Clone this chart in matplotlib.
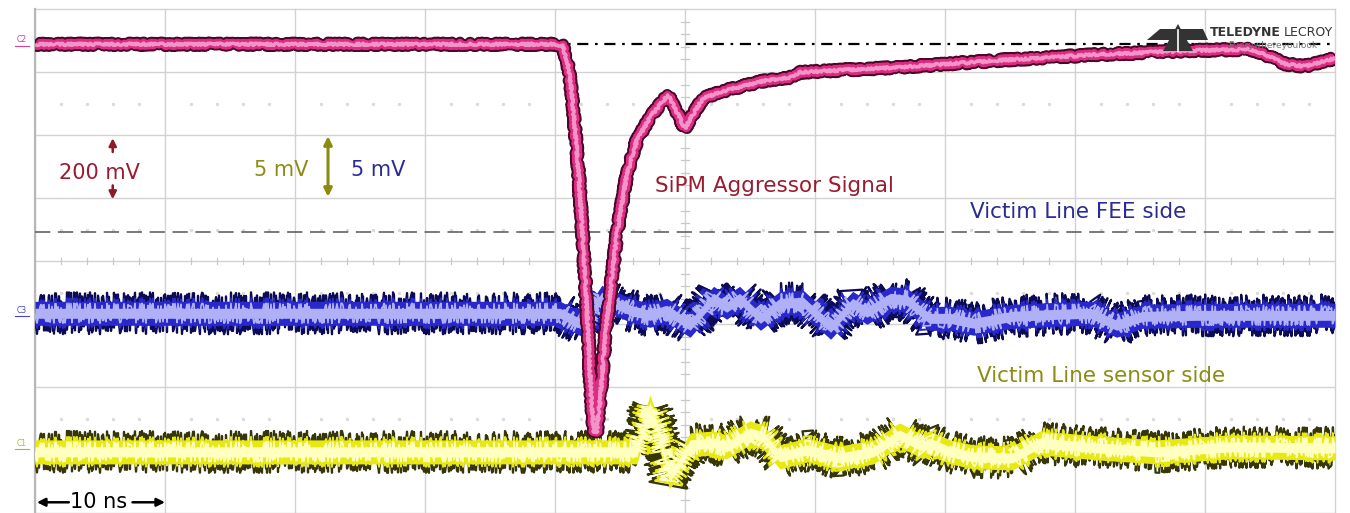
import matplotlib
matplotlib.use("Agg")
import matplotlib.pyplot as plt
from matplotlib.patches import Polygon, Rectangle
import numpy as np

plt.rcParams["path.simplify"] = False

# ---- screen layout: 10 ns/div horizontally, 8 vertical divisions ----
NS_PER_DIV = 10
N_XDIV = 10
N_YDIV = 8
PX_PER_DIV = 63.0   # vertical size of one division on the 1350x513 canvas

# ---- C2: SiPM aggressor signal, 200 mV/div ----
c2_t = [0.0, 40.1, 40.6, 41.0, 41.3, 41.8, 42.1, 42.5, 42.8, 43.0, 43.2, 43.5,
        43.9, 44.4, 44.8, 45.5, 46.3, 47.3, 48.1, 48.7, 49.3, 50.0, 50.7, 51.4,
        53.2, 56.3, 58.1, 58.8, 66.5, 74.2, 81.9, 89.6, 93.5, 94.6, 96.2, 97.7,
        100.0]
c2_mv = [0, 0, -6, -67, -156, -400, -590, -876, -1130, -1232, -1232, -1114,
         -908, -733, -590, -416, -305, -232, -190, -162, -210, -267, -216, -171,
         -146, -114, -105, -89, -73, -51, -32, -19, -16, -32, -63, -70,
         -44]
C2_MV_PER_DIV = 200
C2_OFFSET_DIV = 3.44

# ---- C3: victim line, FEE side, 5 mV/div ----
c3_t = [0.0, 40.4, 42.2, 43.6, 45.8, 47.3, 48.6, 50.4, 52.2, 53.2, 54.2, 55.8,
        57.3, 59.1, 61.2, 62.9, 64.0, 65.8, 67.1, 68.8, 70.4, 72.2, 75.2, 78.6,
        81.2, 83.2, 85.2, 89.4, 94.5, 100.0]
c3_mv = [0.0, 0.0, -0.95, 1.27, 0.24, -0.16, 0.24, -0.95, 1.19, 0.48, 1.19, -0.40,
         0.79, 0.87, -1.11, 0.79, 0.08, 1.19, 1.03, -0.40, -0.40, -0.79, -0.24, -0.08,
         0.0, -0.95, -0.24, -0.16, -0.16, -0.16]
C3_MV_PER_DIV = 5
C3_OFFSET_DIV = -0.83

# ---- C1: victim line, sensor side, 5 mV/div ----
c1_t = [0.0, 38.8, 46.3, 47.3, 47.9, 48.8, 49.6, 50.4, 52.2, 53.2, 55.0, 56.0,
        57.3, 59.4, 61.9, 64.5, 66.5, 68.3, 68.8, 70.4, 72.2, 75.2, 77.3, 81.7,
        86.3, 91.9, 100.0]
c1_mv = [0.0, 0.0, 0.0, 3.57, 1.75, -1.98, -0.87, 0.56, 0.71, 0.40, 1.51, 1.19,
         -0.40, 0.16, -0.48, 0.0, 1.35, 0.40, 0.71, 0.0, -0.40, -0.48, 0.71, 0.32,
         0.0, 0.40, 0.32]
C1_MV_PER_DIV = 5
C1_OFFSET_DIV = -3.03

# reference levels (divisions)
C2_REF_DIV = 3.44
TRIG_LEVEL_DIV = 0.46

RED = "#9b1b30"
NAVY = "#2b2b96"
OLIVE = "#8c8c14"

fig = plt.figure(figsize=(13.5, 5.13), dpi=100)
fig.patch.set_facecolor("white")
ax = fig.add_axes([0, 0, 1, 1])
ax.set_xlim(-2.692, 101.154)
ax.set_ylim(-4.0, 4.143)
ax.axis("off")

xmax = N_XDIV * NS_PER_DIV
ytop = N_YDIV / 2
screen = Rectangle((0, -ytop), xmax, 2 * ytop, transform=ax.transData,
                   facecolor="none", edgecolor="none")
ax.add_patch(screen)

# graticule
for i in range(N_XDIV + 1):
    ax.plot([i * NS_PER_DIV] * 2, [-ytop, ytop], color="#d2d2d2", lw=1.0, zorder=1)
for j in range(N_YDIV + 1):
    ax.plot([0, xmax], [j - ytop] * 2, color="#d2d2d2", lw=1.0, zorder=1)
ax.plot([0, 0], [-ytop, ytop], color="#b8b8b8", lw=1.6, zorder=1)

# faint sub-division dots
sub_x = [k * 2 for k in range(1, 50) if k % 5]
for yd in (2.5, 0.5, -0.5, -2.5):
    ax.plot(sub_x, [yd] * len(sub_x), ls="none", marker="s", ms=1.3,
            color="#dcdcdc", zorder=1)

# centre-axis tick marks
for k in range(1, 50):
    if k % 5:
        ax.plot([k * 2] * 2, [-0.04, 0.04], color="#c8c8c8", lw=0.9, zorder=1)
for k in range(-20, 21):
    if k % 5:
        ax.plot([49.7, 50.3], [k * 0.2] * 2, color="#c8c8c8", lw=0.9, zorder=1)

# reference lines
ax.plot([0, xmax], [C2_REF_DIV] * 2, color="black", lw=1.6,
        dashes=(5, 3, 1.2, 3), zorder=2)
ax.plot([0, xmax], [TRIG_LEVEL_DIV] * 2, color="#555555", lw=1.1,
        dashes=(10, 5), zorder=2)


def jitter_line(t, d, col, lw, jit, z, length=1.5, rnd=6):
    ln, = ax.plot(t, d, color=col, lw=lw, solid_joinstyle="round",
                  solid_capstyle="butt", zorder=z)
    ln.set_sketch_params(jit, length, rnd)
    ln.set_clip_path(screen)


def band_trace(t, mv, per_div, offset, edge, mid, light, z):
    """Persistence-style trace for a small-signal channel: a jittered dark
    envelope, a solid body and a bright core, each with noisy streaks."""
    d = offset + np.asarray(mv, dtype=float) / per_div
    jitter_line(t, d, edge, 1.6, 21, z)
    jitter_line(t, d, edge, 1.6, 18, z, length=1.2)
    body = ax.fill_between(t, d - 12 / PX_PER_DIV, d + 12 / PX_PER_DIV,
                           color=mid, lw=0, zorder=z)
    body.set_clip_path(screen)
    jitter_line(t, d, mid, 1.4, 15, z)
    core = ax.fill_between(t, d - 5 / PX_PER_DIV, d + 5 / PX_PER_DIV,
                           color=light, lw=0, zorder=z)
    core.set_clip_path(screen)
    jitter_line(t, d, light, 1.2, 10, z)


def line_trace(t, mv, per_div, offset, layers, z):
    """Persistence-style trace for the large-signal channel: stacked strokes
    with a slight jitter, widest/darkest first."""
    d = offset + np.asarray(mv, dtype=float) / per_div
    for col, lw, jit in layers:
        ln, = ax.plot(t, d, color=col, lw=lw, solid_joinstyle="round",
                      solid_capstyle="butt", zorder=z)
        ln.set_sketch_params(jit, 1.3, 8)
        ln.set_clip_path(screen)


band_trace(c3_t, c3_mv, C3_MV_PER_DIV, C3_OFFSET_DIV,
           "#0c0c55", "#2828cc", "#b0b0f6", 3)
band_trace(c1_t, c1_mv, C1_MV_PER_DIV, C1_OFFSET_DIV,
           "#36360a", "#e8e812", "#ffffc0", 3)
line_trace(c2_t, c2_mv, C2_MV_PER_DIV, C2_OFFSET_DIV,
           [("#4a0828", 8.0, 2.2), ("#de2a82", 5.6, 1.8), ("#f294c8", 2.4, 1.2)], 5)

# channel tags at the left edge
for name, yd, col in (("C2", 3.51, "#d8409a"), ("C3", -0.78, "#4646c8"),
                      ("C1", -2.90, "#b4b428")):
    ax.text(-1.0, yd, name, color=col, fontsize=5.5, ha="center", va="center",
            zorder=6)
    ax.plot([-1.55, -0.45], [yd - 0.09] * 2, color=col, lw=0.8, zorder=6)

# vertical scale annotations
ax.text(4.92, 1.40, "200 mV", color=RED, fontsize=15, ha="center", va="center", zorder=6)
ax.annotate("", xy=(5.98, 1.95), xytext=(5.98, 1.73),
            arrowprops=dict(arrowstyle="-|>", color="#8b1a2a", lw=1.8,
                            mutation_scale=11, shrinkA=0, shrinkB=0), zorder=6)
ax.annotate("", xy=(5.98, 0.98), xytext=(5.98, 1.20),
            arrowprops=dict(arrowstyle="-|>", color="#8b1a2a", lw=1.8,
                            mutation_scale=11, shrinkA=0, shrinkB=0), zorder=6)

ax.text(18.92, 1.44, "5 mV", color=OLIVE, fontsize=15, ha="center", va="center", zorder=6)
ax.annotate("", xy=(22.54, 1.98), xytext=(22.54, 1.02),
            arrowprops=dict(arrowstyle="<|-|>", color="#8c8a10", lw=2.2,
                            mutation_scale=12, shrinkA=0, shrinkB=0), zorder=6)
ax.text(26.38, 1.44, "5 mV", color=NAVY, fontsize=15, ha="center", va="center", zorder=6)

# trace labels
ax.text(47.69, 1.19, "SiPM Aggressor Signal", color=RED, fontsize=15.5,
        ha="left", va="center", zorder=6)
ax.text(71.92, 0.78, "Victim Line FEE side", color=NAVY, fontsize=15.5,
        ha="left", va="center", zorder=6)
ax.text(72.46, -1.83, "Victim Line sensor side", color=OLIVE, fontsize=15.5,
        ha="left", va="center", zorder=6)

# time-scale marker
ax.text(4.92, -3.83, "10 ns", color="black", fontsize=15, ha="center", va="center", zorder=6)
ax.annotate("", xy=(0.15, -3.83), xytext=(2.6, -3.83),
            arrowprops=dict(arrowstyle="-|>", color="black", lw=1.8,
                            mutation_scale=12, shrinkA=0, shrinkB=0), zorder=6)
ax.annotate("", xy=(10.0, -3.83), xytext=(7.5, -3.83),
            arrowprops=dict(arrowstyle="-|>", color="black", lw=1.8,
                            mutation_scale=12, shrinkA=0, shrinkB=0), zorder=6)

# manufacturer badge (figure pixel units, origin at top-left)
W, H = 1350.0, 513.0


def fpx(pts):
    return [(x / W, 1 - y / H) for x, y in pts]


logo = "#333333"
fig.patches.append(Polygon(fpx([(1147, 40), (1160, 29), (1203, 29), (1208, 40)]),
                           closed=True, transform=fig.transFigure,
                           facecolor=logo, edgecolor="none", zorder=7))
fig.patches.append(Polygon(fpx([(1163, 51), (1178, 24), (1193, 51)]),
                           closed=True, transform=fig.transFigure,
                           facecolor=logo, edgecolor="none", zorder=7))
fig.lines.append(plt.Line2D([1178 / W, 1178 / W], [1 - 30 / H, 1 - 51 / H],
                            transform=fig.transFigure, color="white", lw=1.2,
                            zorder=8))
fig.text(1210 / W, 1 - 32 / H, "TELEDYNE", fontsize=9, fontweight="bold",
         color="#333333", ha="left", va="center")
fig.text(1284 / W, 1 - 32 / H, "LECROY", fontsize=9, color="#333333",
         ha="left", va="center")
fig.text(1228 / W, 1 - 45 / H, "Everywhereyoulook", fontsize=6.5,
         color="#777777", ha="left", va="center")

fig.savefig("out.png", dpi=100, facecolor="white")
